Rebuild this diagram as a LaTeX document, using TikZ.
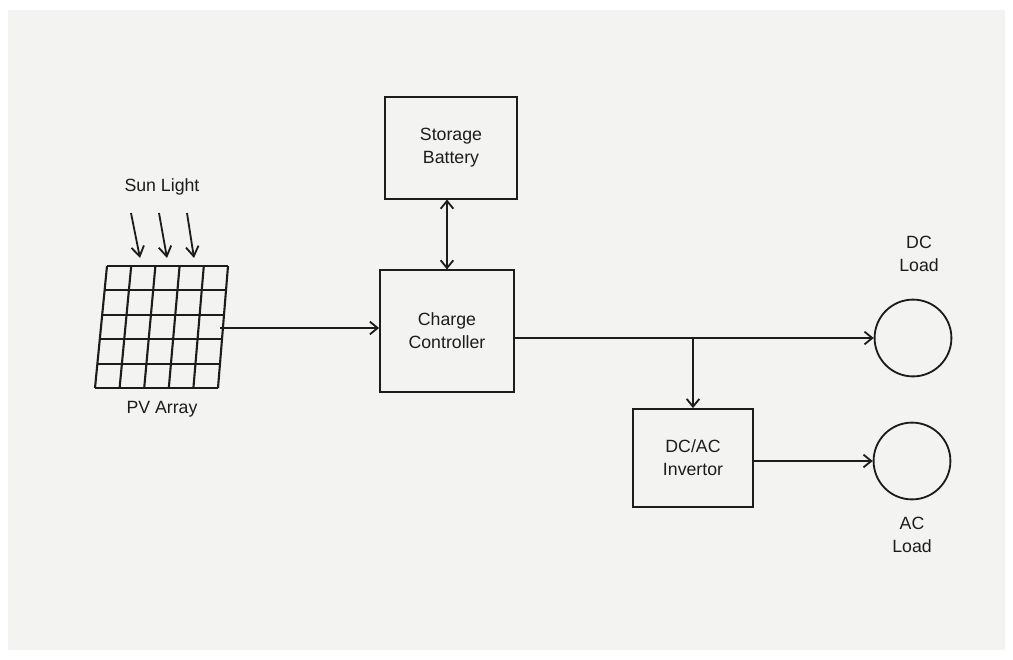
\documentclass[tikz,border=0pt]{standalone}
\usepackage{fontspec}
\setmainfont{Liberation Sans}
\usetikzlibrary{arrows.meta}
\definecolor{paper}{HTML}{F3F3F2}
\definecolor{ink}{HTML}{1C1C1C}

\begin{document}
\begin{tikzpicture}[x=0.025cm, y=-0.025cm,
  block/.style={draw=ink, line width=1.3pt, align=center, inner sep=0pt,
    text=ink, font=\fontsize{12.6}{16.3}\selectfont},
  load/.style={draw=ink, circle, line width=1.3pt, minimum size=1.92cm, inner sep=0pt},
  lbl/.style={text=ink, align=center, font=\fontsize{12.6}{16.3}\selectfont},
  wire/.style={draw=ink, line width=1.3pt, -{Straight Barb[length=5.5pt,width=9pt]}}]
\fill[white] (0,0) rectangle (1013,659);
\fill[paper] (8,10) rectangle (1005,650);

% PV array grid
\foreach \i in {0,...,5} {
  \draw[ink, line width=1.5pt] ({107+24.2*\i},266) -- ({95+24.6*\i},388);
  \draw[ink, line width=1.5pt] ({107-2.4*\i},{266+24.4*\i}) -- ({228-2*\i},{266+24.4*\i});
}
\coordinate (pvout) at (220,328);
\node[lbl] (sun) at (162,187) {Sun Light};
\node[lbl] (pvlabel) at (162,409) {PV Array};
\foreach \a/\b in {131/140, 159/167, 187/194} {
  \draw[wire, -{Straight Barb[length=7pt,width=9pt]}] (\a,213) -- (\b,258);
}

\node[block, minimum width=3.3cm, minimum height=2.53cm] (batt) at (451,148) {Storage\\Battery};
\node[block, minimum width=3.35cm, minimum height=3.03cm] (ctrl) at (447,331) {Charge\\Controller};
\node[block, minimum width=3.0cm, minimum height=2.45cm] (inv) at (693,458) {DC/AC\\Invertor};
\node[load] (dcload) at (913,338) {};
\node[load] (acload) at (912,461) {};
\node[lbl] (dclabel) at (919,254) {DC\\Load};
\node[lbl] (aclabel) at (912,535) {AC\\Load};
\coordinate (split) at (693,338);

\draw[wire] (pvout) -- (pvout -| ctrl.west);
\draw[wire, {Straight Barb[length=5.5pt,width=9pt]}-{Straight Barb[length=5.5pt,width=9pt]}]
  (ctrl.north |- batt.south) -- (ctrl.north);
\draw[wire] (ctrl.east |- split) -- (dcload.west);
\draw[wire] (split) -- (inv.north);
\draw[wire] (inv.east |- acload) -- (acload.west);
\end{tikzpicture}
\end{document}
